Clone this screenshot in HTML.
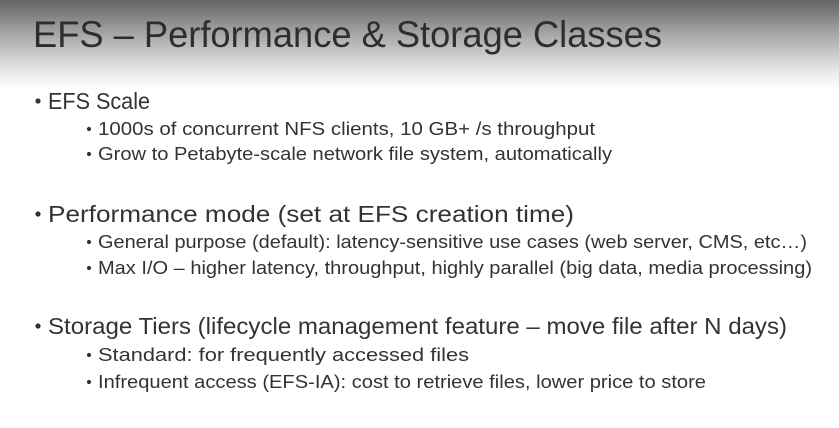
<!DOCTYPE html>
<html><head><meta charset="utf-8"><style>
html,body{margin:0;padding:0}
body{width:839px;height:428px;overflow:hidden;background:linear-gradient(to bottom,#646464 0px,#a8a8a8 35px,#e6e6e6 70px,#ffffff 90px,#ffffff 428px)}
svg{position:absolute;left:0;top:0}
text{font-family:"Liberation Sans",sans-serif;fill:#333}
</style></head><body>
<svg width="839" height="428">
<text x="33" y="47" font-size="37" textLength="629" lengthAdjust="spacingAndGlyphs" style="fill:#2e2e2e">EFS – Performance &amp; Storage Classes</text>
<g font-size="23">
<circle cx="38" cy="101" r="2.6" fill="#333"/>
<text x="48" y="109" textLength="102" lengthAdjust="spacingAndGlyphs">EFS Scale</text>
<circle cx="38" cy="214" r="2.6" fill="#333"/>
<text x="48" y="222" textLength="526" lengthAdjust="spacingAndGlyphs">Performance mode (set at EFS creation time)</text>
<circle cx="38" cy="326" r="2.6" fill="#333"/>
<text x="48" y="334" textLength="739" lengthAdjust="spacingAndGlyphs">Storage Tiers (lifecycle management feature – move file after N days)</text>
</g>
<g font-size="18.5">
<circle cx="89" cy="129" r="2.1" fill="#333"/>
<text x="98" y="135" textLength="497" lengthAdjust="spacingAndGlyphs">1000s of concurrent NFS clients, 10 GB+ /s throughput</text>
<circle cx="89" cy="154" r="2.1" fill="#333"/>
<text x="98" y="160" textLength="514" lengthAdjust="spacingAndGlyphs">Grow to Petabyte-scale network file system, automatically</text>
<circle cx="89" cy="242" r="2.1" fill="#333"/>
<text x="98" y="248" textLength="709" lengthAdjust="spacingAndGlyphs">General purpose (default): latency-sensitive use cases (web server, CMS, etc…)</text>
<circle cx="89" cy="268" r="2.1" fill="#333"/>
<text x="98" y="274" textLength="714" lengthAdjust="spacingAndGlyphs">Max I/O – higher latency, throughput, highly parallel (big data, media processing)</text>
<circle cx="89" cy="355" r="2.1" fill="#333"/>
<text x="98" y="361" textLength="371" lengthAdjust="spacingAndGlyphs">Standard: for frequently accessed files</text>
<circle cx="89" cy="382" r="2.1" fill="#333"/>
<text x="98" y="388" textLength="608" lengthAdjust="spacingAndGlyphs">Infrequent access (EFS-IA): cost to retrieve files, lower price to store</text>
</g>
</svg>
</body></html>
